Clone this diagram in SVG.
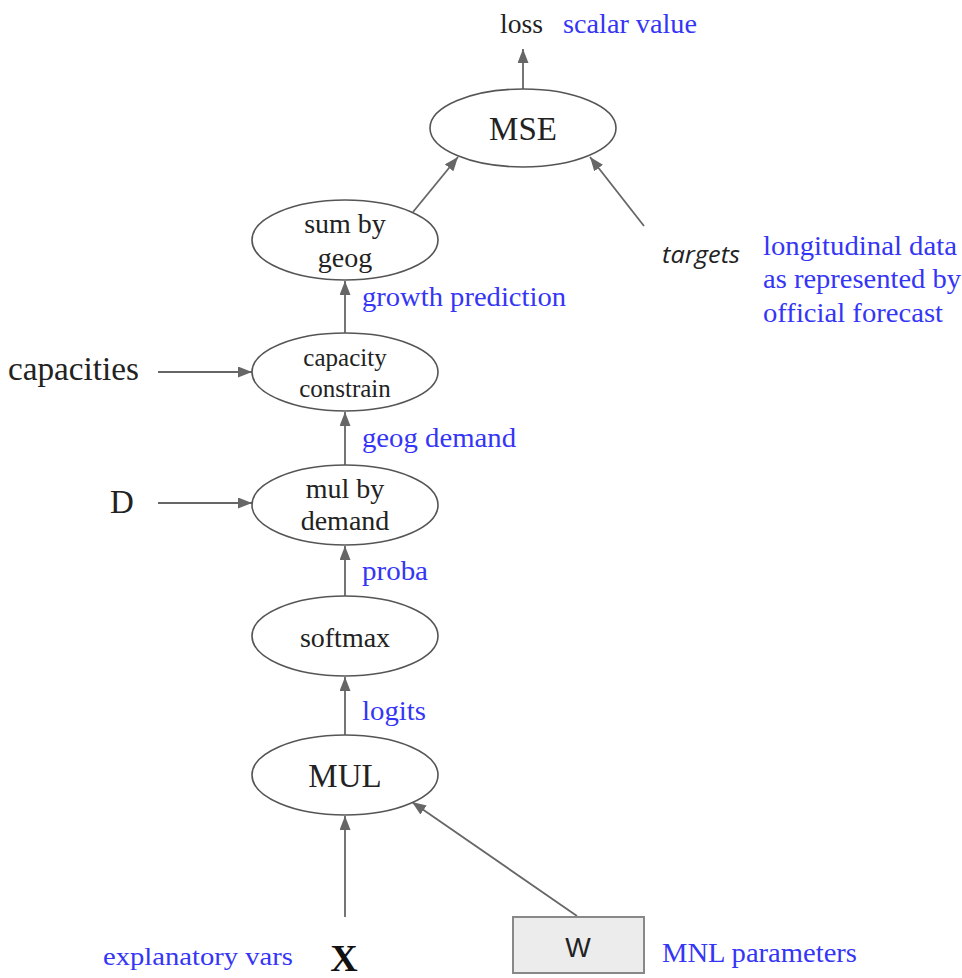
<svg xmlns="http://www.w3.org/2000/svg" width="962" height="978" viewBox="0 0 962 978">
  <style>
    .node ellipse { fill: #ffffff; stroke: #555555; stroke-width: 1.6; }
    .box { fill: #ececec; stroke: #888888; stroke-width: 2; }
    .lbl { font-family: "Liberation Serif", serif; font-size: 28px; fill: #222222; }
    .small { font-size: 25px; }
    .big { font-family: "Liberation Serif", serif; font-size: 33px; fill: #222222; }
    .note { font-family: "Liberation Serif", serif; font-size: 28px; fill: #3535f5; }
    .mid { text-anchor: middle; }
    .edge { stroke: #666666; stroke-width: 1.8; fill: none; marker-end: url(#arrow); }
  </style>
  <defs>
    <marker id="arrow" markerUnits="userSpaceOnUse" markerWidth="15" markerHeight="12" refX="14" refY="5.5" orient="auto">
      <path d="M0,0 L14,5.5 L0,11 z" fill="#666666"/>
    </marker>
  </defs>

  <rect width="962" height="978" fill="#ffffff"/>

  <!-- connectors -->
  <g id="edges">
    <line class="edge" x1="523" y1="89" x2="523" y2="49"/>
    <line class="edge" x1="413" y1="212" x2="458" y2="157"/>
    <line class="edge" x1="644" y1="226" x2="590" y2="157"/>
    <line class="edge" x1="345" y1="333" x2="345" y2="281"/>
    <line class="edge" x1="158" y1="372" x2="252" y2="372"/>
    <line class="edge" x1="345" y1="465" x2="345" y2="412"/>
    <line class="edge" x1="158" y1="503" x2="252" y2="503"/>
    <line class="edge" x1="345" y1="597" x2="345" y2="546"/>
    <line class="edge" x1="345" y1="735" x2="345" y2="677"/>
    <line class="edge" x1="345" y1="917" x2="345" y2="816"/>
    <line class="edge" x1="577" y1="916" x2="412" y2="802"/>
  </g>

  <!-- output -->
  <g id="loss">
    <text class="lbl" x="500" y="33" textLength="43" lengthAdjust="spacingAndGlyphs">loss</text>
    <text class="note" x="563" y="33" textLength="134" lengthAdjust="spacingAndGlyphs">scalar value</text>
  </g>

  <g id="mse" class="node">
    <ellipse cx="523" cy="128" rx="93" ry="39"/>
    <text class="big mid" x="523" y="140">MSE</text>
  </g>

  <g id="sum-by-geog" class="node">
    <ellipse cx="345" cy="240" rx="93" ry="40"/>
    <text class="lbl mid" x="345" y="233">sum by</text>
    <text class="lbl mid" x="345" y="267">geog</text>
  </g>
  <text class="note" x="362" y="306" textLength="204" lengthAdjust="spacingAndGlyphs">growth prediction</text>

  <g id="targets">
    <text x="662" y="263" font-family="'Open Sans', sans-serif" font-style="italic" font-size="24" fill="#222222" textLength="78" lengthAdjust="spacingAndGlyphs">targets</text>
    <text class="note" x="763" y="255" textLength="194" lengthAdjust="spacingAndGlyphs">longitudinal data</text>
    <text class="note" x="763" y="288" textLength="198" lengthAdjust="spacingAndGlyphs">as represented by</text>
    <text class="note" x="763" y="322" textLength="180" lengthAdjust="spacingAndGlyphs">official forecast</text>
  </g>

  <g id="capacities">
    <text class="big" x="8" y="380" textLength="131" lengthAdjust="spacingAndGlyphs">capacities</text>
  </g>

  <g id="capacity-constrain" class="node">
    <ellipse cx="345" cy="372" rx="93" ry="39"/>
    <text class="lbl small mid" x="345" y="366">capacity</text>
    <text class="lbl small mid" x="345" y="397">constrain</text>
  </g>
  <text class="note" x="362" y="447" textLength="154" lengthAdjust="spacingAndGlyphs">geog demand</text>

  <g id="demand-input">
    <text class="big" x="110" y="513">D</text>
  </g>

  <g id="mul-by-demand" class="node">
    <ellipse cx="345" cy="505" rx="93" ry="40"/>
    <text class="lbl mid" x="345" y="498">mul by</text>
    <text class="lbl mid" x="345" y="530">demand</text>
  </g>
  <text class="note" x="362" y="580" textLength="66" lengthAdjust="spacingAndGlyphs">proba</text>

  <g id="softmax" class="node">
    <ellipse cx="345" cy="636" rx="93" ry="40"/>
    <text class="lbl mid" x="345" y="647">softmax</text>
  </g>
  <text class="note" x="362" y="720" textLength="64" lengthAdjust="spacingAndGlyphs">logits</text>

  <g id="mul" class="node">
    <ellipse cx="345" cy="775" rx="93" ry="40"/>
    <text class="big mid" x="345" y="787">MUL</text>
  </g>

  <g id="x-input">
    <text x="344" y="971" text-anchor="middle" font-family="'Liberation Serif', serif" font-weight="bold" font-size="38" fill="#111111">X</text>
    <text class="note" x="103" y="965" style="font-size:26px" textLength="190" lengthAdjust="spacingAndGlyphs">explanatory vars</text>
  </g>

  <g id="w-param">
    <rect class="box" x="513" y="917" width="131" height="56"/>
    <text x="578" y="957" text-anchor="middle" font-family="'Liberation Sans', sans-serif" font-size="27" fill="#222222">W</text>
    <text class="note" x="662" y="962" textLength="195" lengthAdjust="spacingAndGlyphs">MNL parameters</text>
  </g>
</svg>
